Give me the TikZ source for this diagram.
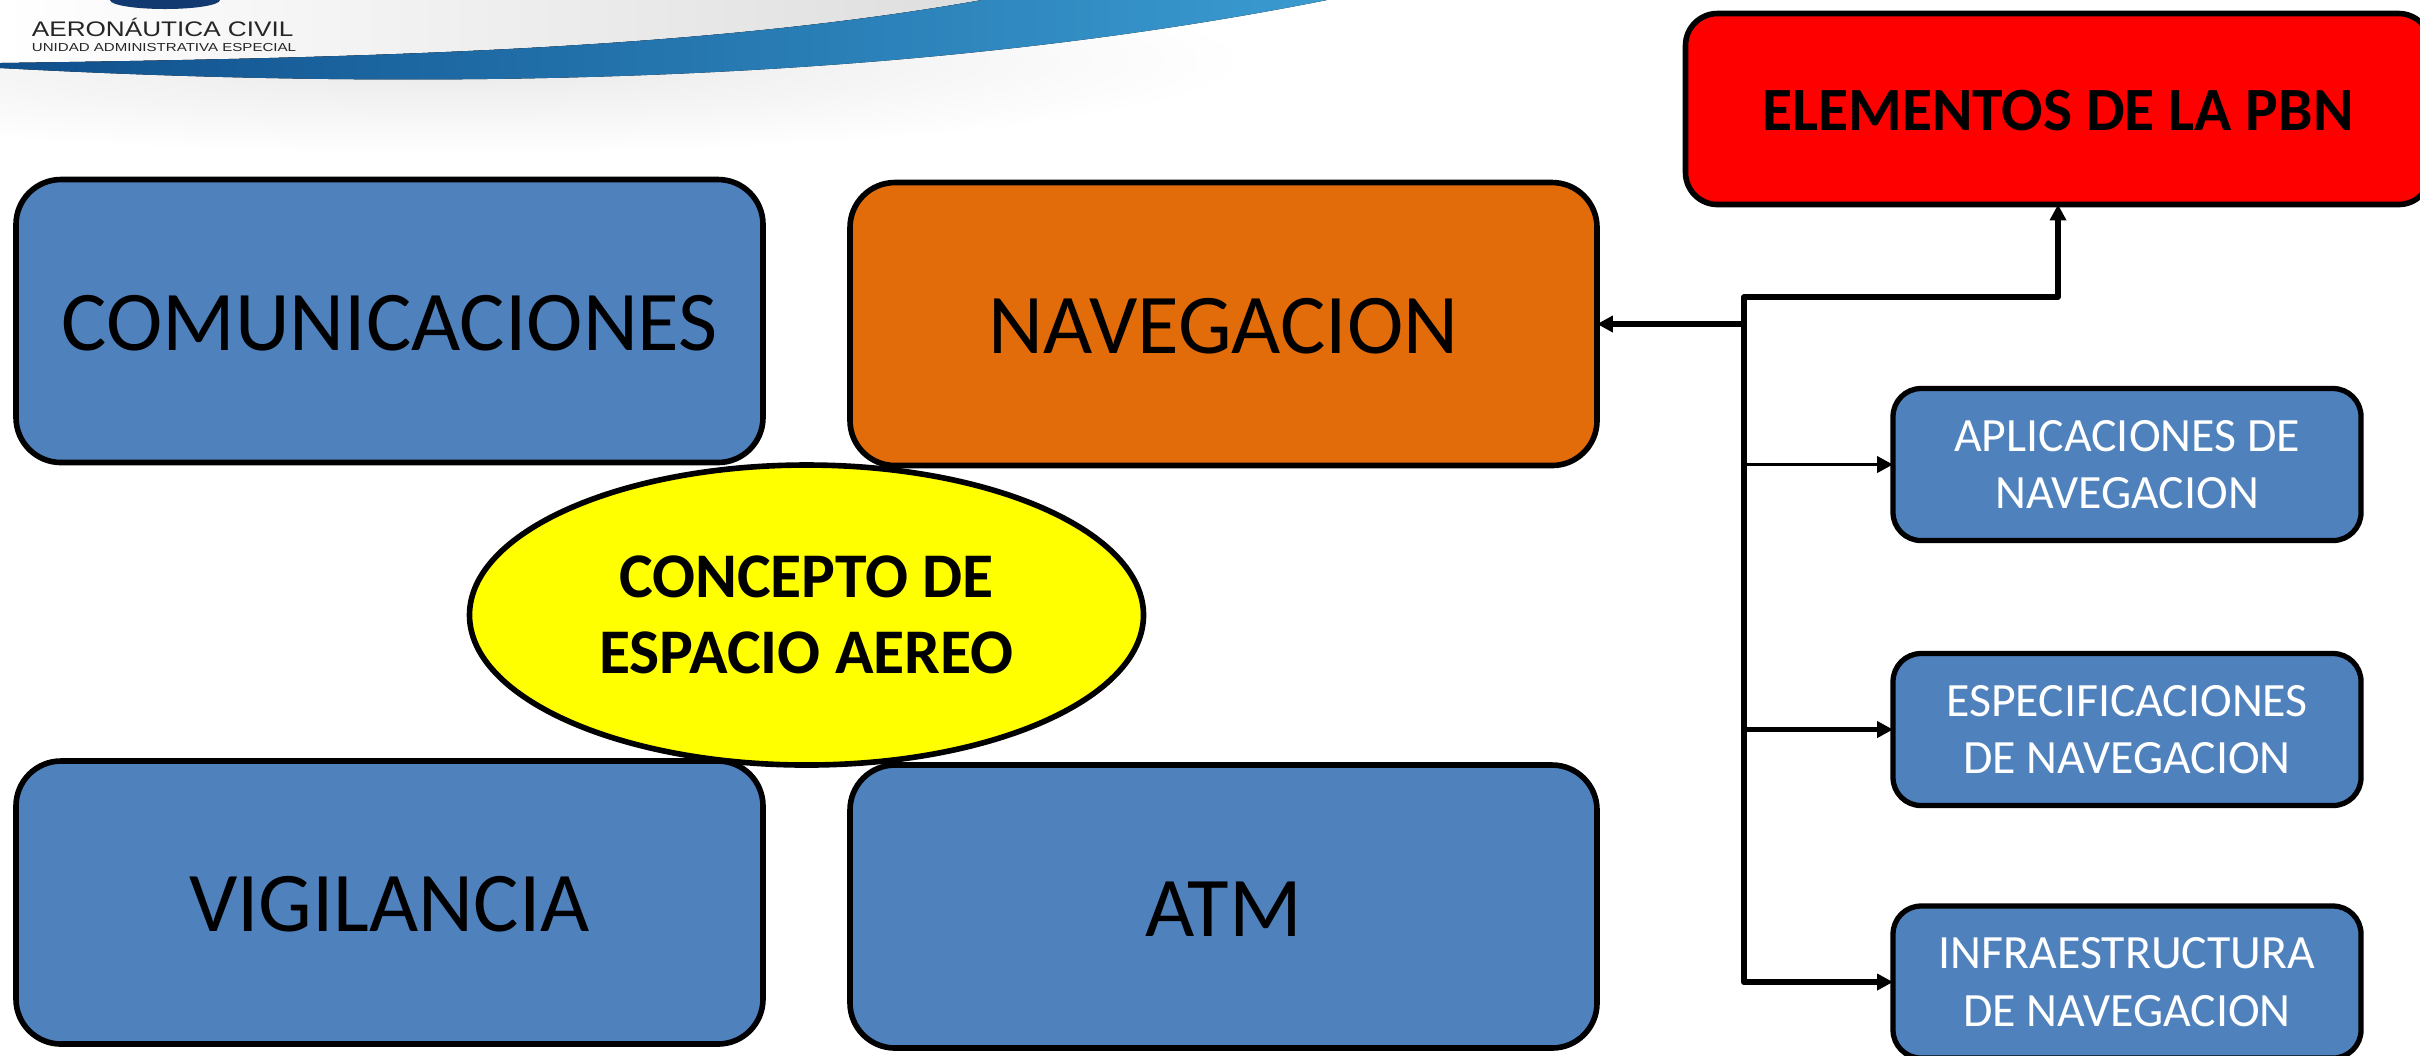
\documentclass[tikz,border=0pt]{standalone}
\usepackage{fontspec}
\setmainfont{Carlito}
\newfontfamily\logofont{Liberation Sans}
\usetikzlibrary{arrows.meta}
\usetikzlibrary{shapes.geometric}
\definecolor{boxblue}{HTML}{4F81BD}
\definecolor{navorange}{HTML}{E36C0A}
\definecolor{purered}{HTML}{FF0000}
\definecolor{pureyellow}{HTML}{FFFF00}
\definecolor{bandleft}{HTML}{0F4F8C}
\definecolor{bandright}{HTML}{3A9BD0}
\definecolor{logonavy}{HTML}{123A70}
\tikzset{
	bigbox/.style={draw, line width=1.6pt, outer sep=0pt, rounded corners=0.45cm, fill=boxblue, minimum width=7.47cm, minimum height=2.83cm, text height=16.8pt, font=\fontsize{24.2}{29}\selectfont},
	smallbox/.style={draw, line width=1.5pt, outer sep=0pt, rounded corners=0.28cm, fill=boxblue, text=white, align=center, minimum width=4.68cm, minimum height=1.52cm, font=\fontsize{13.6}{16.3}\selectfont},
	thicklink/.style={line width=1.5pt, -{Triangle[length=4.5pt,width=4.5pt]}},
	thinlink/.style={line width=1.1pt, -{Triangle[length=4.5pt,width=4.5pt]}},
	logotext/.style={inner sep=0pt, anchor=west, text=black!85}
}
\begin{document}
\begin{tikzpicture}
		\useasboundingbox (0,0) rectangle (24.2,-10.55);
		\begin{scope}
			% header
			\shade [inner color=black!9, outer color=white] (4.5,-0.6) ellipse (8cm and 0.95cm);
			\fill [left color=white, right color=black!13] (0,0) -- (0,-0.63) .. controls (3.6,-0.58) and (7,-0.5) .. (9.82,0) -- cycle;
			\fill [left color=bandleft, right color=bandright] (0,-0.63) .. controls (3.6,-0.58) and (7,-0.5) .. (9.82,0) -- (13.27,0) .. controls (9.5,-0.75) and (5,-0.95) .. (0,-0.68) -- cycle;
			\fill [logonavy] (1.65,0) ellipse (0.55cm and 0.09cm);
			\node (civil) [logotext, xscale=1.24, font=\logofont\fontsize{6}{7}\selectfont] at (0.31,-0.275) {AERONÁUTICA CIVIL};
			\node (unidad) [logotext, xscale=1.3, font=\logofont\fontsize{3.3}{4}\selectfont] at (0.31,-0.47) {UNIDAD ADMINISTRATIVA ESPECIAL};
		\end{scope}
		\begin{scope}
			% main boxes
			\node (comunicaciones) [bigbox] at (3.895,-3.21) {COMUNICACIONES};
			\node (navegacion) [bigbox, fill=navorange] at (12.235,-3.24) {NAVEGACION};
			\node (vigilancia) [bigbox] at (3.895,-9.025) {VIGILANCIA};
			\node (atm) [bigbox] at (12.235,-9.065) {ATM};
			%
			\node (concepto) [draw, ellipse, line width=1.6pt, fill=pureyellow, align=center, inner sep=0pt, minimum width=6.74cm, minimum height=3cm, font=\bfseries\fontsize{18.1}{21.5}\selectfont] at (8.065,-6.15) {CONCEPTO DE\\ESPACIO AEREO};
			%
			\node (elementos) [draw, line width=1.6pt, outer sep=0pt, rounded corners=0.32cm, fill=purered, minimum width=7.45cm, minimum height=1.91cm, text height=12.2pt, font=\bfseries\fontsize{17.5}{21}\selectfont] at (20.58,-1.09) {ELEMENTOS DE LA PBN};
			%
			\node (aplicaciones) [smallbox] at (21.27,-4.645) {APLICACIONES DE\\NAVEGACION};
			\node (especificaciones) [smallbox] at (21.27,-7.295) {ESPECIFICACIONES\\DE NAVEGACION};
			\node (infraestructura) [smallbox] at (21.27,-9.82) {INFRAESTRUCTURA\\DE NAVEGACION};
		\end{scope}
		\begin{scope}
			% connectors
			\coordinate (spinetop) at (17.44,-2.97);
			\coordinate (spinebot) at (17.44,-9.82);
			\coordinate (navjoint) at (17.44,-3.24);
			\coordinate (apljoint) at (17.44,-4.645);
			\coordinate (espjoint) at (17.44,-7.295);
			%
			\draw [line width=1.7pt, line cap=round] (spinetop) -- (spinebot);
			\draw [thicklink] (navjoint) -- (navegacion.east);
			\draw [thicklink, line join=round] (spinetop) -| (elementos.south);
			\draw [thinlink] (apljoint) -- (aplicaciones.west);
			\draw [thicklink] (espjoint) -- (especificaciones.west);
			\draw [thicklink] (spinebot) -- (infraestructura.west);
		\end{scope}
	\end{tikzpicture}
\end{document}
